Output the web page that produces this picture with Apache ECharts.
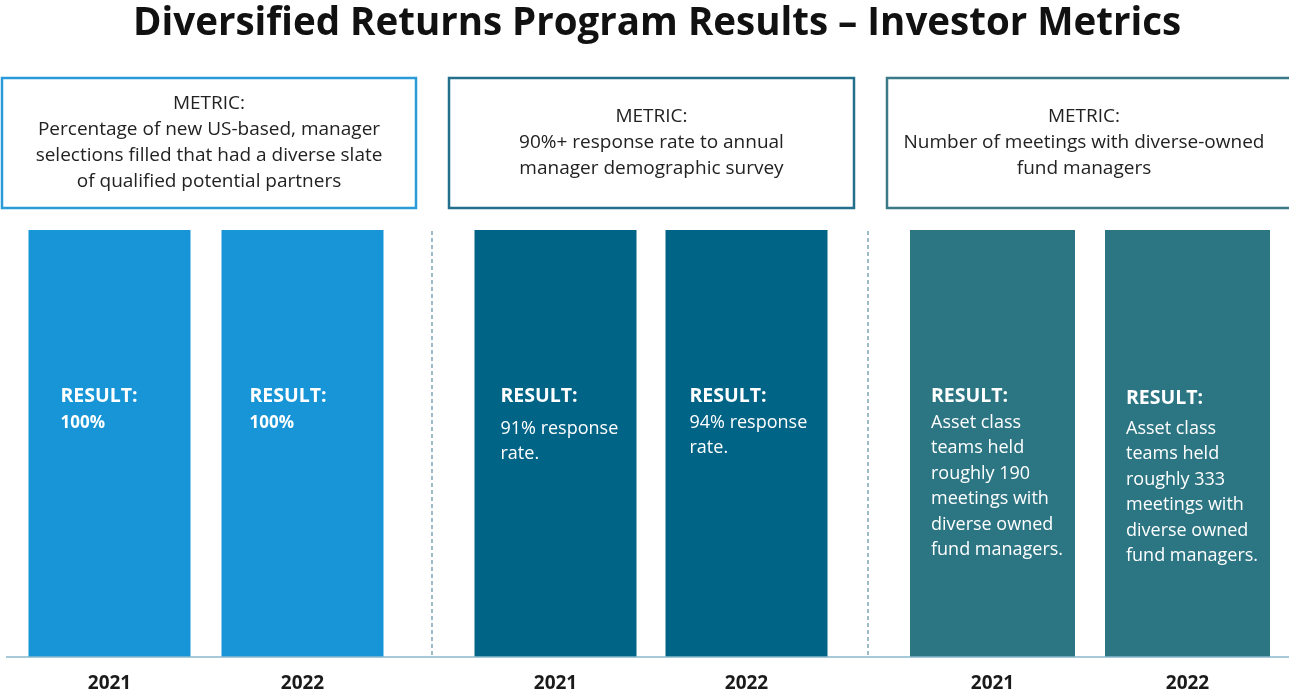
<!DOCTYPE html>
<html>
<head>
<meta charset="utf-8">
<script src="https://cdn.jsdelivr.net/npm/echarts@6/dist/echarts.min.js"></script>
<style>
  html, body { margin: 0; padding: 0; background: #fff; }
  #chart { width: 1289px; height: 693px; }
</style>
</head>
<body>
<div id="chart"></div>
<script>
// data
const years = ['2021', '2022']
const groupValues = [
  [1, 1], // diverse slate
  [1, 1], // survey response
  [1, 1]  // meetings
]
const groupColors = ['#1795d6', '#006487', '#2c7583']
const metricTexts = [
  'METRIC:\nPercentage of new US-based, manager\nselections filled that had a diverse slate\nof qualified potential partners',
  'METRIC:\n90%+ response rate to annual\nmanager demographic survey',
  'METRIC:\nNumber of meetings with diverse-owned\nfund managers'
]
const resultTexts = [
  ['100%', '100%'],
  ['91% response\nrate.', '94% response\nrate.'],
  ['Asset class\nteams held\nroughly 190\nmeetings with\ndiverse owned\nfund managers.',
   'Asset class\nteams held\nroughly 333\nmeetings with\ndiverse owned\nfund managers.']
]

const FONT = '"Open Sans", "DejaVu Sans", sans-serif'

// layout of the three panels
const grids = [
  { left: 13, width: 386, barWidth: 162, boxX: 2, boxW: 414, stroke: '#2a9bd8' },
  { left: 460, width: 382, barWidth: 162, boxX: 449, boxW: 405, stroke: '#236f8c' },
  { left: 895, width: 390, barWidth: 165, boxX: 887, boxW: 410, stroke: '#3a7a88' }
]
const labelOffsets = [
  [[32, 152], [28, 152]],
  [[26, 146], [24, 152]],
  [[21, 152], [21, 150]]
]
const headGap = [[28, 28], [40, 28], [28, 36]]
const bodyFont = [17, 18, 18]

const chart = echarts.init(document.getElementById('chart'))

const series = []
groupValues.forEach((vals, g) => {
  series.push({
    type: 'bar',
    xAxisIndex: g,
    yAxisIndex: g,
    barWidth: grids[g].barWidth,
    itemStyle: { color: groupColors[g] },
    data: vals.map((v, i) => ({
      value: v,
      label: {
        show: true,
        position: labelOffsets[g][i],
        align: 'left',
        verticalAlign: 'top',
        formatter: '{h|RESULT:}\n{b|' + resultTexts[g][i].split('\n').join('}\n{b|') + '}',
        rich: {
          h: { color: '#fff', fontFamily: FONT, fontWeight: 'bold', fontSize: 19.5, lineHeight: headGap[g][i] },
          b: { color: '#fff', fontFamily: FONT, fontWeight: g === 0 ? 'bold' : 'normal', fontSize: bodyFont[g], lineHeight: 25.5 }
        }
      }
    })),
    animation: false
  })
})

const graphic = []
metricTexts.forEach((t, g) => {
  const box = grids[g]
  graphic.push({
    type: 'rect',
    shape: { x: box.boxX, y: 78, width: box.boxW, height: 130 },
    style: { fill: '#fff', stroke: box.stroke, lineWidth: 2.5 }
  })
  const lines = t.split('\n').length
  graphic.push({
    type: 'text',
    x: box.boxX + box.boxW / 2 + (g === 2 ? -8 : 0),
    y: 143 - lines * 13,
    style: {
      text: t,
      fill: '#222',
      font: '19px ' + FONT,
      lineHeight: 26,
      align: 'center',
      verticalAlign: 'top'
    }
  })
})
// dashed separators between panels
;[432, 868].forEach(x => {
  graphic.push({
    type: 'line',
    shape: { x1: x, y1: 231, x2: x, y2: 655 },
    style: { stroke: '#5b8fa3', lineWidth: 1.2, lineDash: [4, 3] }
  })
})
// baseline
graphic.push({
  type: 'line',
  shape: { x1: 6, y1: 657, x2: 1289, y2: 657 },
  style: { stroke: '#8ab8cc', lineWidth: 1.5 },
  z: 100
})

chart.setOption({
  animation: false,
  title: {
    text: 'Diversified Returns Program Results \u2013 Investor Metrics',
    left: 128,
    top: 0,
    textStyle: { fontFamily: FONT, fontSize: 38.5, fontWeight: 'bold', color: '#111' }
  },
  grid: grids.map(g => ({ left: g.left, width: g.width, top: 230, bottom: 36 })),
  xAxis: grids.map((g, i) => ({
    type: 'category',
    gridIndex: i,
    data: years,
    axisLine: { show: false },
    axisTick: { show: false },
    axisLabel: { margin: 17, fontFamily: FONT, fontSize: 19, fontWeight: 'bold', color: '#1a1a1a' }
  })),
  yAxis: grids.map((g, i) => ({
    type: 'value',
    gridIndex: i,
    min: 0,
    max: 1,
    show: false
  })),
  graphic: graphic,
  series: series
})
</script>
</body>
</html>
